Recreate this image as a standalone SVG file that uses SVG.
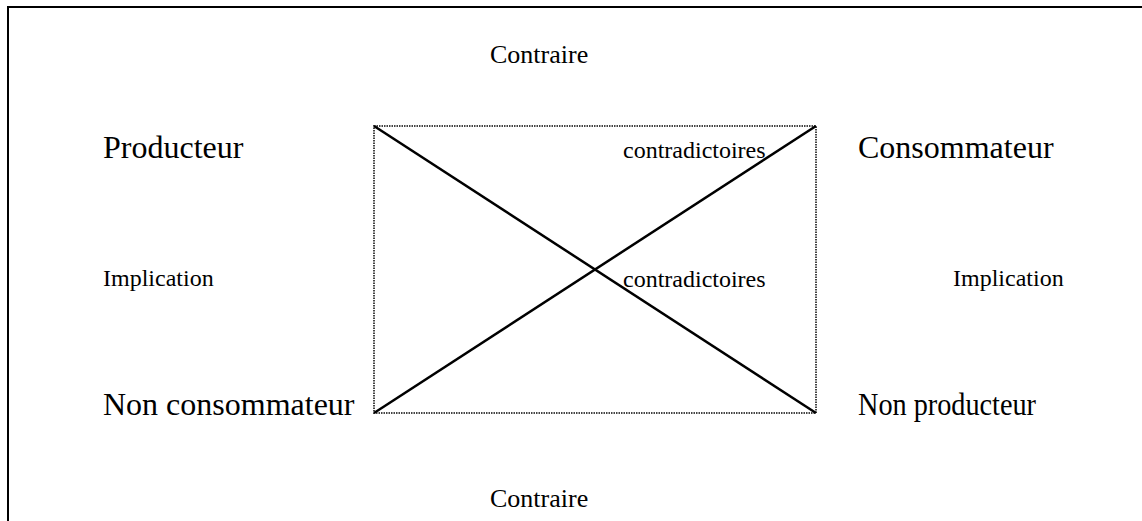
<svg xmlns="http://www.w3.org/2000/svg" width="1142" height="521" viewBox="0 0 1142 521">
<style>
text{font-family:"Liberation Serif","Times New Roman",serif;fill:#000}
.big{font-size:32px}
.small{font-size:24px}
.title{font-size:26px}
.frame{stroke:#000;stroke-width:2;fill:none}
.box{stroke:#444;stroke-width:2;stroke-dasharray:1.5 1;fill:none}
.diag{stroke:#000;stroke-width:2.5;fill:none}
</style>
<rect width="1142" height="521" fill="#fff"/>
<g id="frame"><path class="frame" d="M8,521 V7 H1142"/></g>
<g id="connectors">
<rect class="box" x="374" y="126" width="442" height="287"/>
<line class="diag" x1="374" y1="126" x2="816" y2="413"/>
<line class="diag" x1="374" y1="413" x2="816" y2="126"/>
</g>
<g id="producteur"><text class="big" x="103" y="158">Producteur</text></g>
<g id="consommateur"><text class="big" x="858" y="158">Consommateur</text></g>
<g id="non-consommateur"><text class="big" x="103" y="415">Non consommateur</text></g>
<g id="non-producteur"><text class="big" x="858" y="415" textLength="178" lengthAdjust="spacingAndGlyphs">Non producteur</text></g>
<g id="contraire-top"><text class="title" x="490" y="63">Contraire</text></g>
<g id="contraire-bottom"><text class="title" x="490" y="507">Contraire</text></g>
<g id="implication-left"><text class="small" x="103" y="286">Implication</text></g>
<g id="implication-right"><text class="small" x="953" y="286">Implication</text></g>
<g id="contradictoires-top"><text class="small" x="623" y="158">contradictoires</text></g>
<g id="contradictoires-mid"><text class="small" x="623" y="287">contradictoires</text></g>
</svg>
